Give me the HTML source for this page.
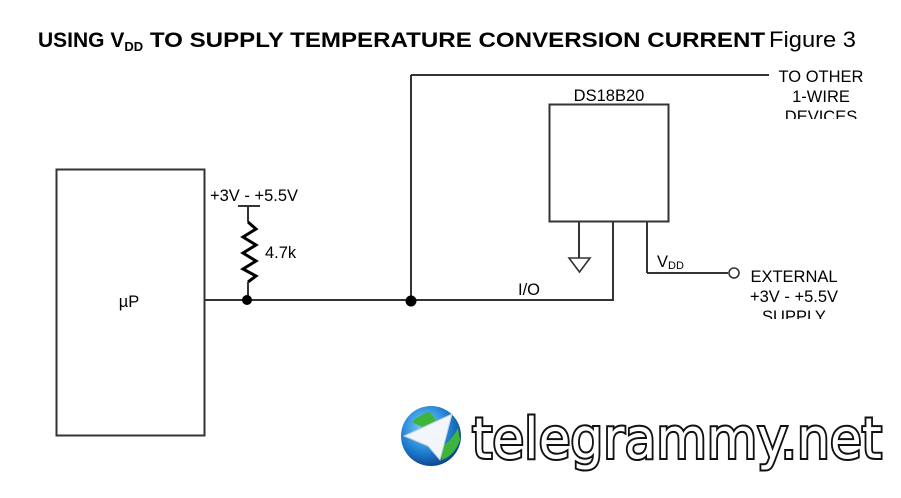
<!DOCTYPE html>
<html><head><meta charset="utf-8"><style>
html,body{margin:0;padding:0;background:#fff;}
svg{display:block;}
</style></head><body>
<svg width="901" height="498" viewBox="0 0 901 498" xmlns="http://www.w3.org/2000/svg" font-family="Liberation Sans, Arial, sans-serif">
<rect width="901" height="498" fill="#fff"/>
<!-- title -->
<text x="38" y="47" font-size="21" font-weight="bold" fill="#000">USING V<tspan font-size="13" dy="4">DD</tspan><tspan dy="-4" textLength="622" lengthAdjust="spacingAndGlyphs"> TO SUPPLY TEMPERATURE CONVERSION CURRENT</tspan></text>
<text x="769" y="47" font-size="22" fill="#000" textLength="87" lengthAdjust="spacingAndGlyphs">Figure 3</text>

<g stroke="#333" stroke-width="2" fill="none">
<rect x="56.5" y="169.5" width="148" height="266"/>
<line x1="205" y1="300" x2="614" y2="300"/>
<line x1="238" y1="206" x2="260" y2="206"/>
<line x1="248" y1="206" x2="248" y2="222"/>
<polyline points="248,222 256,229 243,237 256,245 243,253 256,261 243,269 256,276 248,282" stroke="#000" stroke-width="3"/>
<line x1="248" y1="282" x2="248" y2="300"/>
<line x1="411" y1="300" x2="411" y2="75"/>
<line x1="411" y1="75" x2="769" y2="75"/>
<rect x="549.5" y="104.5" width="119" height="117"/>
<line x1="579" y1="222" x2="579" y2="258"/>
<polygon points="569,258 590,258 579.5,272" stroke-width="1.6"/>
<line x1="613" y1="222" x2="613" y2="300"/>
<line x1="647" y1="222" x2="647" y2="273"/>
<line x1="647" y1="273" x2="728" y2="273"/>
<circle cx="734" cy="273" r="5" stroke-width="1.6"/>
</g>
<circle cx="247" cy="300" r="5" fill="#000"/>
<circle cx="411" cy="301" r="5.5" fill="#000"/>

<g font-size="16.5" fill="#000">
<text x="210" y="201">+3V - +5.5V</text>
<text x="265" y="258">4.7k</text>
<text x="129" y="307" text-anchor="middle">µP</text>
<text x="518" y="295">I/O</text>
<text x="609" y="101" text-anchor="middle">DS18B20</text>
<text x="657" y="267">V<tspan font-size="11" dy="2">DD</tspan></text>
<text x="821" y="82" text-anchor="middle">TO OTHER</text>
<text x="821" y="102" text-anchor="middle">1-WIRE</text>
<text x="821" y="122" text-anchor="middle">DEVICES</text>
<text x="794" y="282" text-anchor="middle">EXTERNAL</text>
<text x="794" y="302" text-anchor="middle">+3V - +5.5V</text>
<text x="794" y="322" text-anchor="middle">SUPPLY</text>
</g>
<rect x="770" y="119" width="100" height="8" fill="#fff"/>
<rect x="740" y="319" width="100" height="8" fill="#fff"/>

<!-- watermark -->
<defs><radialGradient id="g" cx="40%" cy="35%" r="70%"><stop offset="0" stop-color="#7fd4ff"/><stop offset="0.6" stop-color="#1e7fd0"/><stop offset="1" stop-color="#0a3f8a"/></radialGradient></defs>
<circle cx="431" cy="436" r="30" fill="url(#g)"/>
<path d="M412 422 Q420 414 430 412 L436 420 L424 428 Z" fill="#3fb43a"/>
<path d="M440 448 Q452 440 458 428 L460 440 Q455 455 442 460 Z" fill="#3fb43a"/>
<polygon points="404,436 452,414 440,460 428,446" fill="#f2f6fa" stroke="#bcd" stroke-width="1"/>
<text x="472" y="458" font-size="56" font-family="DejaVu Sans, sans-serif" fill="#fff" stroke="#111" stroke-width="4" paint-order="stroke" textLength="410" lengthAdjust="spacingAndGlyphs">telegrammy.net</text>
</svg>
</body></html>
